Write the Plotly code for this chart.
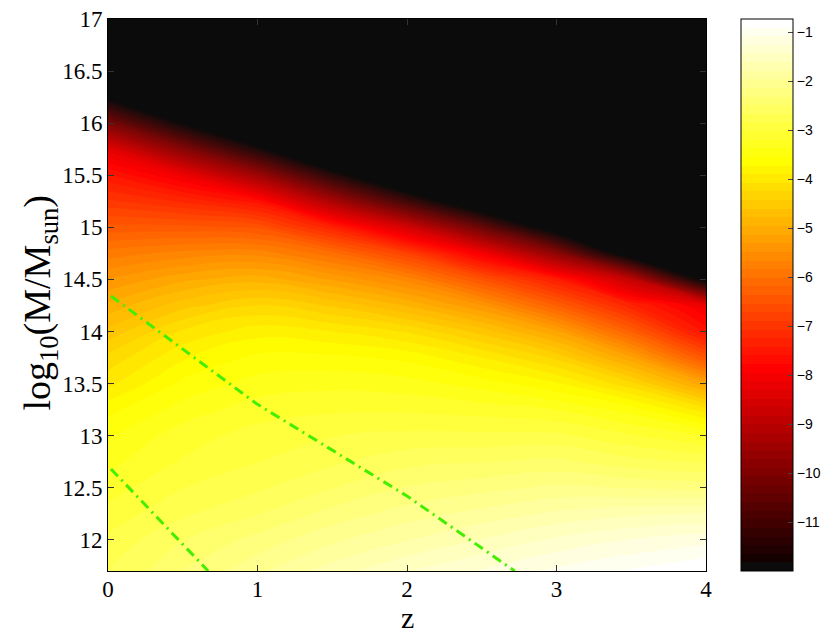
import plotly.graph_objects as go

# grid: redshift columns, log10 mass rows
z_vals = [0.0, 0.5, 1.0, 1.5, 2.0, 2.5, 3.0, 3.5, 4.0]
logm_vals = [11.5, 11.75, 12.0, 12.25, 12.5, 12.75, 13.0, 13.25, 13.5, 13.75,
             14.0, 14.25, 14.5, 14.75, 15.0, 15.25, 15.5, 15.75, 16.0, 16.25,
             16.5, 16.75, 17.0]

# log10 abundance, one list per redshift column (bottom -> top)
col_z00 = [-2.5, -2.7, -2.8, -2.95, -3.1, -3.25, -3.4, -3.6, -3.95, -4.2,
           -4.55, -4.9, -5.3, -5.75, -6.3, -6.85, -7.4, -8.2, -10.0, -12.0,
           -14.0, -16.0, -18.0]
col_z05 = [-2.1, -2.35, -2.5, -2.7, -2.85, -3.0, -3.1, -3.3, -3.5, -3.75,
           -4.05, -4.5, -5.0, -5.6, -6.3, -7.1, -8.0, -9.8, -11.9, -14.0,
           -16.0, -18.0, -20.0]
col_z10 = [-1.8, -2.05, -2.25, -2.5, -2.7, -2.85, -2.95, -3.1, -3.3, -3.5,
           -3.8, -4.25, -4.85, -5.55, -6.4, -7.5, -9.4, -11.6, -14.0, -16.0,
           -18.0, -20.0, -22.0]
col_z15 = [-1.5, -1.75, -2.0, -2.25, -2.5, -2.7, -2.85, -3.05, -3.25, -3.5,
           -3.9, -4.45, -5.15, -5.95, -7.2, -9.2, -11.4, -14.0, -16.0, -18.0,
           -20.0, -22.0, -24.0]
col_z20 = [-1.2, -1.5, -1.8, -2.05, -2.3, -2.55, -2.8, -3.05, -3.3, -3.6,
           -4.1, -4.8, -5.55, -6.7, -8.5, -11.0, -13.5, -16.0, -18.0, -20.0,
           -22.0, -24.0, -26.0]
col_z25 = [-1.0, -1.3, -1.6, -1.9, -2.2, -2.5, -2.8, -3.1, -3.45, -3.9,
           -4.5, -5.3, -6.4, -7.9, -10.3, -13.0, -15.5, -18.0, -20.0, -22.0,
           -24.0, -26.0, -28.0]
col_z30 = [-0.8, -1.1, -1.4, -1.75, -2.1, -2.45, -2.8, -3.2, -3.7, -4.3,
           -5.1, -6.2, -7.3, -9.7, -12.5, -15.0, -17.5, -20.0, -22.0, -24.0,
           -26.0, -28.0, -30.0]
col_z35 = [-0.6, -0.95, -1.25, -1.65, -2.15, -2.6, -3.0, -3.45, -4.2, -5.1,
           -6.2, -7.2, -8.8, -12.5, -15.0, -17.5, -20.0, -22.0, -24.0, -26.0,
           -28.0, -30.0, -32.0]
col_z40 = [-0.5, -0.8, -1.15, -1.6, -2.2, -2.7, -3.2, -4.0, -5.1, -6.4,
           -7.5, -8.0, -12.2, -15.0, -17.5, -20.0, -22.0, -24.0, -26.0, -28.0,
           -30.0, -32.0, -34.0]

# the two dash-dot limit curves
lim1_z = [0.02, 1.0, 2.0, 2.72]
lim1_logm = [14.34, 13.3, 12.42, 11.7]
lim2_z = [0.02, 0.67]
lim2_logm = [12.68, 11.7]

cbar_ticks = [-1, -2, -3, -4, -5, -6, -7, -8, -9, -10, -11]

columns = [col_z00, col_z05, col_z10, col_z15, col_z20,
           col_z25, col_z30, col_z35, col_z40]
zgrid = [[col[i] for col in columns] for i in range(len(logm_vals))]

c_lo = -12.0
c_hi = -0.73
n = 64
step = (c_hi - c_lo) / n

# matlab hot(64), stepped for the colorbar
n1 = 24
hot_steps = []
for k in range(1, n + 1):
    r = min(k / n1, 1.0)
    g = min(max((k - n1) / n1, 0.0), 1.0)
    b = max((k - 2 * n1) / (n - 2 * n1), 0.0)
    if k == 1:
        c = "rgb(11,11,11)"
    else:
        c = "rgb(%d,%d,%d)" % (round(r * 255), round(g * 255), round(b * 255))
    hot_steps.append([(k - 1) / n, c])
    hot_steps.append([k / n, c])

# same map, continuous, for the filled contour bands
hot_smooth = [[0.0, "rgb(11,11,11)"], [0.375, "rgb(255,0,0)"],
              [0.75, "rgb(255,255,0)"], [1.0, "rgb(255,255,255)"]]

fig = go.Figure()

fig.add_trace(go.Contour(
    x=z_vals,
    y=logm_vals,
    z=zgrid,
    colorscale=hot_smooth,
    contours=dict(start=c_lo + step, end=c_hi - step * 0.99, size=step,
                  coloring="fill", showlines=False),
    line=dict(width=0, smoothing=1.3),
    showscale=False,
    hoverinfo="skip",
))

line_style = dict(color="#44ee00", width=3, dash="10px,5px,2px,5px")
fig.add_trace(go.Scatter(x=lim1_z, y=lim1_logm, mode="lines",
                         line=line_style, showlegend=False))
fig.add_trace(go.Scatter(x=lim2_z, y=lim2_logm, mode="lines",
                         line=line_style, showlegend=False))

# colorbar carrier
fig.add_trace(go.Scatter(
    x=[None], y=[None], mode="markers", showlegend=False,
    marker=dict(
        color=[c_lo],
        cmin=c_lo,
        cmax=c_hi,
        colorscale=hot_steps,
        showscale=True,
        colorbar=dict(
            x=1.0585,
            xanchor="left",
            xpad=0,
            y=0.5,
            yanchor="middle",
            ypad=0,
            len=1.0,
            thickness=52,
            outlinewidth=1,
            outlinecolor="black",
            ticks="inside",
            ticklen=5,
            tickcolor="#444",
            tickvals=cbar_ticks,
            ticktext=["\u2212%d" % abs(t) for t in cbar_ticks],
            tickfont=dict(family="Liberation Sans, Arial", size=14, color="black"),
        ),
    ),
))

serif = "Liberation Serif, Times New Roman"
axis_font = dict(family=serif, size=23, color="black")

fig.update_xaxes(
    range=[0, 4],
    tickvals=[0, 1, 2, 3, 4],
    ticks="inside",
    ticklen=6,
    tickcolor="#333",
    showline=True,
    linecolor="black",
    linewidth=1,
    mirror="allticks",
    showgrid=False,
    zeroline=False,
    automargin=False,
    ticklabelstandoff=-3,
    ticklabeloverflow="allow",
    tickfont=axis_font,
)
fig.update_yaxes(
    range=[11.7, 17],
    tickvals=[12, 12.5, 13, 13.5, 14, 14.5, 15, 15.5, 16, 16.5, 17],
    ticks="inside",
    ticklen=6,
    tickcolor="#333",
    showline=True,
    linecolor="black",
    linewidth=1,
    mirror="allticks",
    showgrid=False,
    zeroline=False,
    automargin=False,
    ticklabeloverflow="allow",
    tickfont=axis_font,
)

fig.add_annotation(text="z", xref="paper", yref="paper", x=0.5, y=-0.084,
                   xanchor="center", yanchor="middle", showarrow=False,
                   font=dict(family=serif, size=30, color="black"))
fig.add_annotation(text="log<sub>10</sub>(M/M<sub>sun</sub>)",
                   xref="paper", yref="paper", x=-0.114, y=0.486,
                   xanchor="center", yanchor="middle", textangle=-90,
                   showarrow=False,
                   font=dict(family=serif, size=38, color="black"))

# page shows the figure 8px in from the top left, so margins are shifted
fig.update_layout(
    width=830,
    height=638,
    margin=dict(l=100, r=132, t=11, b=75),
    paper_bgcolor="white",
    plot_bgcolor="white",
    showlegend=False,
)

fig.write_html("out.html")
